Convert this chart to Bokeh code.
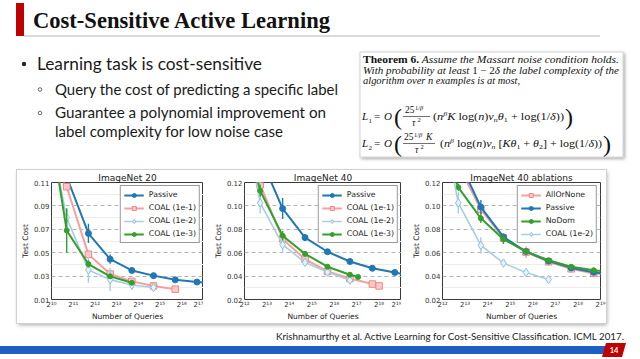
import numpy as np
from bokeh.plotting import figure
from bokeh.models import FixedTicker, Legend, LegendItem, Div, Spacer, Range1d
from bokeh.layouts import column, row
from bokeh.embed import file_html
from bokeh.resources import INLINE

# ------------------------------------------------------------------ data
chart_titles = ["ImageNet 20", "ImageNet 40", "ImageNet 40 ablations"]
x_label = "Number of Queries"
y_label = "Test Cost"

# ImageNet 20
in20_passive_x = [1663, 3327, 6654, 13308, 26616, 53232, 106464, 212928]
in20_passive_y = [0.115, 0.0665, 0.0445, 0.0348, 0.0304, 0.0268, 0.0249, 0.0236]
in20_passive_e = [0.004, 0.0083, 0.004, 0.0015, 0.001, 0.001, 0.0008, 0.0008]

in20_coal1_x = [832, 1663, 3327, 6654, 13308, 26616, 53232]
in20_coal1_y = [0.14, 0.1064, 0.0486, 0.0318, 0.0255, 0.0216, 0.0188]
in20_coal1_e = [0.01, 0.002, 0.002, 0.001, 0.001, 0.0008, 0.0008]

in20_coal2_x = [832, 1663, 3327, 6654, 13308, 26616]
in20_coal2_y = [0.174, 0.080, 0.0353, 0.027, 0.0224, 0.0202]
in20_coal2_e = [0.01, 0.007, 0.011, 0.010, 0.004, 0.002]

in20_coal3_x = [832, 1663, 3327, 6654, 13308]
in20_coal3_y = [0.186, 0.069, 0.0403, 0.0298, 0.0243]
in20_coal3_e = [0.01, 0.019, 0.003, 0.002, 0.0015]

# ImageNet 40
in40_passive_x = [6654, 13308, 26616, 53232, 106464, 212928, 425856, 851712]
in40_passive_y = [0.142, 0.0977, 0.0729, 0.0608, 0.0525, 0.0467, 0.0431, 0.0395]
in40_passive_e = [0.005, 0.009, 0.003, 0.002, 0.0015, 0.001, 0.001, 0.001]

in40_coal1_x = [3327, 6654, 13308, 26616, 53232, 106464, 212928, 262144]
in40_coal1_y = [0.17, 0.118, 0.0718, 0.0544, 0.044, 0.0379, 0.0332, 0.0316]
in40_coal1_e = [0.01, 0.004, 0.003, 0.002, 0.0015, 0.001, 0.001, 0.001]

in40_coal2_x = [3327, 6654, 13308, 26616, 53232, 106464]
in40_coal2_y = [0.20, 0.1026, 0.0668, 0.0517, 0.0434, 0.0365]
in40_coal2_e = [0.01, 0.009, 0.007, 0.002, 0.002, 0.0015]

in40_coal3_x = [3327, 6654, 13308, 26616, 53232, 106464, 137000]
in40_coal3_y = [0.19, 0.113, 0.0745, 0.059, 0.048, 0.0412, 0.0393]
in40_coal3_e = [0.01, 0.005, 0.004, 0.002, 0.0015, 0.001, 0.001]

# ImageNet 40 ablations
abl_allornone_x = [6654, 13308, 26616, 53232, 106464, 212928, 425856, 851712]
abl_allornone_y = [0.135, 0.0971, 0.0725, 0.0605, 0.0522, 0.0462, 0.0423, 0.041]
abl_allornone_e = [0.005, 0.004, 0.002, 0.005, 0.002, 0.001, 0.001, 0.001]

abl_passive_x = [6654, 13308, 26616, 53232, 106464, 212928, 425856, 851712]
abl_passive_y = [0.14, 0.099, 0.0735, 0.061, 0.0528, 0.047, 0.0432, 0.041]
abl_passive_e = [0.005, 0.006, 0.003, 0.002, 0.0015, 0.001, 0.001, 0.001]

abl_nodom_x = [3327, 6654, 13308, 26616, 53232, 106464, 212928, 425856, 851712]
abl_nodom_y = [0.17, 0.1159, 0.0894, 0.0715, 0.061, 0.0535, 0.048, 0.045, 0.043]
abl_nodom_e = [0.01, 0.003, 0.004, 0.004, 0.002, 0.0015, 0.001, 0.001, 0.001]

abl_coal2_x = [3327, 6654, 13308, 26616, 53232, 106464]
abl_coal2_y = [0.20, 0.1026, 0.0663, 0.0511, 0.0431, 0.0371]
abl_coal2_e = [0.01, 0.009, 0.007, 0.002, 0.002, 0.0015]

in20_y_major = [0.01, 0.03, 0.05, 0.07, 0.09, 0.11]
in20_y_minor = [0.02, 0.04, 0.06, 0.08, 0.10]
in40_y_major = [0.02, 0.04, 0.06, 0.08, 0.10, 0.12]
in40_y_minor = [0.03, 0.05, 0.07, 0.09, 0.11]
in20_x_exponents = list(range(10, 18))
in40_x_exponents = list(range(12, 20))

# ------------------------------------------------------------------ styles
ST = {
    "passive": dict(color="#1f78b4", lw=2.0, marker="circle", size=6, fill="#1f78b4", edge="#1f78b4"),
    "pink": dict(color="#f4a09f", lw=2.0, marker="square", size=6.5, fill="#fcc9c8", edge="#ee8786"),
    "light": dict(color="#a6cee3", lw=1.6, marker="diamond", size=8.5, fill="#e6f1f8", edge="#92c0da"),
    "green": dict(color="#33a02c", lw=2.0, marker="circle", size=5, fill="#33a02c", edge="#33a02c"),
}
SUP = str.maketrans("0123456789", "⁰¹²³⁴⁵⁶⁷⁸⁹")
FONT = "DejaVu Sans"
FIG_H = 153


def add_series(p, x, y, e, st):
    x = np.array(x, float)
    y = np.array(y, float)
    e = np.array(e, float)
    p.segment(x0=x, y0=y - e, x1=x, y1=y + e, line_color=st["color"], line_width=1.4)
    l = p.line(x, y, line_color=st["color"], line_width=st["lw"])
    s = p.scatter(x, y, marker=st["marker"], size=st["size"], fill_color=st["fill"],
                  line_color=st["edge"], line_width=1)
    return [l, s]


def make_fig(title, exps, ymaj, ymin, width, mbl, mbr):
    p = figure(width=width, height=FIG_H, x_axis_type="log",
               x_range=Range1d(2 ** exps[0], 2 ** exps[-1]),
               y_range=Range1d(ymaj[0], ymaj[-1]),
               output_backend="svg", toolbar_location=None,
               min_border_left=mbl, min_border_right=mbr, min_border_top=8, min_border_bottom=8,
               background_fill_color="white", border_fill_color="white",
               outline_line_color="#3a3a3a")
    p.title.text = title
    p.title.align = "center"
    p.title.text_font = FONT
    p.title.text_font_size = "9px"
    p.title.text_font_style = "normal"
    p.title.text_color = "#222222"
    p.title.standoff = 0
    p.title.offset = 0

    xt = FixedTicker(ticks=[2 ** k for k in exps], minor_ticks=[])
    p.xaxis.ticker = xt
    p.xaxis.major_label_overrides = {2 ** k: "2" + str(k).translate(SUP) for k in exps}
    yt = FixedTicker(ticks=ymaj, minor_ticks=ymin)
    p.yaxis.ticker = yt
    p.yaxis.major_label_overrides = {v: "%.2f" % v for v in ymaj}
    p.ygrid.ticker = yt
    p.xgrid.grid_line_color = None
    p.ygrid.grid_line_color = "#b5b5b5"
    p.ygrid.grid_line_dash = "4 3"
    p.ygrid.minor_grid_line_color = "#ececec"

    p.xaxis.axis_label = x_label
    p.yaxis.axis_label = y_label
    for ax in (p.xaxis, p.yaxis):
        ax.axis_label_text_font = FONT
        ax.axis_label_text_font_size = "7.5px"
        ax.axis_label_text_font_style = "normal"
        ax.axis_label_text_color = "#222222"
        ax.axis_label_standoff = 1
        ax.major_label_text_font = FONT
        ax.major_label_text_font_size = "7px"
        ax.major_label_text_color = "#333333"
        ax.major_label_standoff = 2
        ax.major_tick_out = 0
        ax.major_tick_in = 0
        ax.minor_tick_out = 0
        ax.minor_tick_in = 0
        ax.axis_line_color = None
    p.xaxis.axis_label_standoff = 0
    p.xaxis.major_label_standoff = 1
    return p


def add_legend(p, items):
    leg = Legend(items=[LegendItem(label=lab, renderers=r) for lab, r in items],
                 location="top_right", label_text_font=FONT, label_text_font_size="7.8px",
                 label_text_color="#222222", glyph_width=20, glyph_height=10,
                 label_height=11, label_standoff=5, spacing=2, padding=3, margin=3,
                 border_line_color="#333333", border_line_width=1,
                 background_fill_color="white", background_fill_alpha=1.0)
    p.add_layout(leg)


f1 = make_fig(chart_titles[0], in20_x_exponents, in20_y_major, in20_y_minor, 186, 30, 0)
r_p = add_series(f1, in20_passive_x, in20_passive_y, in20_passive_e, ST["passive"])
r_1 = add_series(f1, in20_coal1_x, in20_coal1_y, in20_coal1_e, ST["pink"])
r_2 = add_series(f1, in20_coal2_x, in20_coal2_y, in20_coal2_e, ST["light"])
r_3 = add_series(f1, in20_coal3_x, in20_coal3_y, in20_coal3_e, ST["green"])
add_legend(f1, [("Passive", r_p), ("COAL (1e-1)", r_1), ("COAL (1e-2)", r_2), ("COAL (1e-3)", r_3)])

f2 = make_fig(chart_titles[1], in40_x_exponents, in40_y_major, in40_y_minor, 198, 41, 0)
r_p = add_series(f2, in40_passive_x, in40_passive_y, in40_passive_e, ST["passive"])
r_1 = add_series(f2, in40_coal1_x, in40_coal1_y, in40_coal1_e, ST["pink"])
r_2 = add_series(f2, in40_coal2_x, in40_coal2_y, in40_coal2_e, ST["light"])
r_3 = add_series(f2, in40_coal3_x, in40_coal3_y, in40_coal3_e, ST["green"])
add_legend(f2, [("Passive", r_p), ("COAL (1e-1)", r_1), ("COAL (1e-2)", r_2), ("COAL (1e-3)", r_3)])

f3 = make_fig(chart_titles[2], in40_x_exponents, in40_y_major, in40_y_minor, 205, 41, 6)
r_a = add_series(f3, abl_allornone_x, abl_allornone_y, abl_allornone_e, ST["pink"])
r_p = add_series(f3, abl_passive_x, abl_passive_y, abl_passive_e, ST["passive"])
r_n = add_series(f3, abl_nodom_x, abl_nodom_y, abl_nodom_e, ST["green"])
r_c = add_series(f3, abl_coal2_x, abl_coal2_y, abl_coal2_e, ST["light"])
add_legend(f3, [("AllOrNone", r_a), ("Passive", r_p), ("NoDom", r_n), ("COAL (1e-2)", r_c)])

# ------------------------------------------------------------------ slide text
CSS = """<style>
.ser, .ser * { font-family: 'Liberation Serif', serif !important; }
.lat, .lat * { font-family: Lato, sans-serif !important; }
</style>"""

HEADER = CSS + """
<div style="position:relative;width:640px;height:170px;">
<svg xmlns="http://www.w3.org/2000/svg" width="640" height="170" viewBox="0 0 640 170"
     style="position:absolute;left:0px;top:0px;overflow:visible">
<defs><filter id="sh" x="-5%" y="-5%" width="115%" height="125%">
<feDropShadow dx="1.5" dy="1.5" stdDeviation="1.5" flood-color="#000" flood-opacity="0.35"/></filter></defs>
<rect x="16" y="3" width="8" height="33" fill="#c00000"/>
<line x1="24" y1="36" x2="600" y2="36" stroke="#dadada" stroke-width="2"/>
<text class="ser" x="33" y="28" font-weight="bold" font-size="23" textLength="297"
      lengthAdjust="spacingAndGlyphs" fill="#111">Cost-Sensitive Active Learning</text>
<circle cx="24" cy="64" r="2.2" fill="#222"/>
<text class="lat" x="37" y="70" font-size="17" textLength="225" lengthAdjust="spacingAndGlyphs"
      fill="#1a1a1a">Learning task is cost-sensitive</text>
<circle cx="40" cy="89.5" r="1.8" fill="none" stroke="#444" stroke-width="0.8"/>
<text class="lat" x="55" y="95" font-size="15" textLength="283" lengthAdjust="spacingAndGlyphs"
      fill="#1a1a1a">Query the cost of predicting a specific label</text>
<circle cx="40" cy="113" r="1.8" fill="none" stroke="#444" stroke-width="0.8"/>
<text class="lat" x="55" y="118" font-size="15" textLength="271" lengthAdjust="spacingAndGlyphs"
      fill="#1a1a1a">Guarantee a polynomial improvement on</text>
<text class="lat" x="55" y="136.5" font-size="15" textLength="228" lengthAdjust="spacingAndGlyphs"
      fill="#1a1a1a">label complexity for low noise case</text>

<rect x="360" y="52" width="263" height="105" fill="#fff" stroke="#c8c8c8" stroke-width="0.8" filter="url(#sh)"/>
<text class="ser" x="363" y="62.5" font-size="10" textLength="256" lengthAdjust="spacingAndGlyphs" fill="#111"><tspan font-weight="bold">Theorem 6.</tspan><tspan font-style="italic"> Assume the Massart noise condition holds.</tspan></text>
<text class="ser" x="363" y="73.5" font-size="10" font-style="italic" textLength="256" lengthAdjust="spacingAndGlyphs" fill="#111">With probability at least <tspan font-style="normal">1 − 2</tspan>δ the label complexity of the</text>
<text class="ser" x="363" y="84" font-size="10" font-style="italic" textLength="157" lengthAdjust="spacingAndGlyphs" fill="#111">algorithm over n examples is at most,</text>

<g class="ser" fill="#111">
<text x="362" y="120" font-size="11" font-style="italic">L</text>
<text x="368.5" y="122.5" font-size="7">1</text>
<text x="374" y="120" font-size="11">=</text>
<text x="384" y="120" font-size="11" font-style="italic">O</text>
<text x="394" y="125" font-size="24">(</text>
<text x="405" y="113" font-size="9.5">25</text>
<text x="415" y="109.5" font-size="6.5">1/<tspan font-style="italic">β</tspan></text>
<line x1="403" y1="116.5" x2="430" y2="116.5" stroke="#111" stroke-width="0.6"/>
<text x="412" y="126" font-size="9.5" font-style="italic">τ</text>
<text x="417.5" y="122" font-size="6.5">2</text>
<text x="433" y="120" font-size="10" textLength="131" lengthAdjust="spacingAndGlyphs">(<tspan font-style="italic">n</tspan><tspan font-style="italic" font-size="6.5" dy="-4">β</tspan><tspan font-style="italic" dy="4">K</tspan> log(<tspan font-style="italic">n</tspan>)<tspan font-style="italic">ν</tspan><tspan font-style="italic" font-size="6.5" dy="2">n</tspan><tspan font-style="italic" dy="-2">θ</tspan><tspan font-size="6.5" dy="2">1</tspan><tspan dy="-2"> + log(1/</tspan><tspan font-style="italic">δ</tspan>))</text>
<text x="565" y="125" font-size="24">)</text>

<text x="362" y="147" font-size="11" font-style="italic">L</text>
<text x="368.5" y="149.5" font-size="7">2</text>
<text x="374" y="147" font-size="11">=</text>
<text x="384" y="147" font-size="11" font-style="italic">O</text>
<text x="394" y="152" font-size="24">(</text>
<text x="404" y="140" font-size="9.5">25</text>
<text x="414" y="136.5" font-size="6.5">1/<tspan font-style="italic">β</tspan></text>
<text x="426" y="140" font-size="9.5" font-style="italic">K</text>
<line x1="403" y1="143.5" x2="435" y2="143.5" stroke="#111" stroke-width="0.6"/>
<text x="415" y="153" font-size="9.5" font-style="italic">τ</text>
<text x="420.5" y="149" font-size="6.5">2</text>
<text x="440" y="147" font-size="10" textLength="162" lengthAdjust="spacingAndGlyphs">(<tspan font-style="italic">n</tspan><tspan font-style="italic" font-size="6.5" dy="-4">β</tspan><tspan dy="4"> log(</tspan><tspan font-style="italic">n</tspan>)<tspan font-style="italic">ν</tspan><tspan font-style="italic" font-size="6.5" dy="2">n</tspan><tspan dy="-2"> [</tspan><tspan font-style="italic">Kθ</tspan><tspan font-size="6.5" dy="2">1</tspan><tspan dy="-2"> + </tspan><tspan font-style="italic">θ</tspan><tspan font-size="6.5" dy="2">2</tspan><tspan dy="-2">] + log(1/</tspan><tspan font-style="italic">δ</tspan>))</text>
<text x="603" y="152" font-size="24">)</text>
</g>
</svg>
</div>
"""

FOOT_TOP = 170 + FIG_H
FOOT_H = 357 - FOOT_TOP
FOOTER = CSS + f"""
<div style="position:relative;width:640px;height:{FOOT_H}px;">
<svg xmlns="http://www.w3.org/2000/svg" width="640" height="{359 - FOOT_TOP}" viewBox="0 {FOOT_TOP} 640 {359 - FOOT_TOP}"
     style="position:absolute;left:0px;top:0px;overflow:visible">
<text class="lat" x="276" y="340" font-size="10" textLength="348" lengthAdjust="spacingAndGlyphs"
      fill="#222">Krishnamurthy et al. Active Learning for Cost-Sensitive Classification. ICML 2017.</text>
<rect x="0" y="346" width="606" height="8" fill="#1f5fc4"/>
<polygon points="602,357 606,343 626,343 622,357" fill="#c00000"/>
<text class="lat" x="614" y="353" font-size="7.5" font-weight="bold" fill="#fff" text-anchor="middle">14</text>
</svg>
</div>
"""

header = Div(text=HEADER, width=640, height=170, margin=0, styles={"overflow": "visible"})
charts = row(f1, f2, f3, styles={"outline": "1px solid #d0d0d0",
                                 "box-shadow": "1px 2px 4px rgba(0,0,0,0.35)"})
body = row(Spacer(width=17, height=FIG_H, margin=0), charts)
footer = Div(text=FOOTER, width=640, height=FOOT_H, margin=0, styles={"overflow": "visible"})
layout = column(header, body, footer)

open("out.html", "w").write(file_html(layout, INLINE))
